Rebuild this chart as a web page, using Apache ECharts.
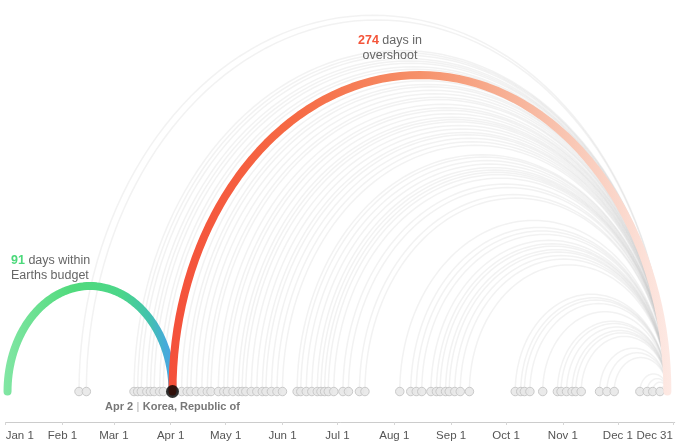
<!DOCTYPE html>
<html>
<head>
<meta charset="utf-8">
<script src="https://cdn.jsdelivr.net/npm/echarts@6/dist/echarts.min.js"></script>
<style>
html,body{margin:0;padding:0;background:#fff;}
#c{width:680px;height:447px;}
</style>
</head>
<body>
<div id="c"></div>
<script>
// ---- data (day index, Jan 1 = 0) ----
const tickDays = [0, 31, 59, 90, 120, 151, 181, 212, 243, 273, 304, 334, 364];
const tickLabels = ['Jan 1', 'Feb 1', 'Mar 1', 'Apr 1', 'May 1', 'Jun 1', 'Jul 1', 'Aug 1', 'Sep 1', 'Oct 1', 'Nov 1', 'Dec 1', 'Dec 31'];
const yearEnd = 361;            // where every arc lands (Dec 31)
const budgetStart = 1;          // Jan 1
const highlightDay = 91;        // Apr 2
const highlightCountry = 'Korea, Republic of';
const budgetDays = 91;
const overshootDays = 274;
const countryDays = [40, 44, 70, 72, 74, 77, 79, 81, 84, 86,
  96, 99, 101, 104, 107, 110, 112, 116, 119, 121, 124, 127, 129, 131, 134, 137, 140, 142, 145, 148, 151,
  159, 161, 164, 167, 170, 172, 174, 176, 179, 184, 187, 193, 196,
  215, 221, 224, 227, 232, 235, 237, 240, 242, 245, 248, 253,
  278, 281, 283, 286, 293, 301, 303, 306, 309, 311, 314,
  324, 328, 332, 346, 350, 353, 357];

const chart = echarts.init(document.getElementById('c'), null, {renderer: 'canvas'});
const FONT = '"Liberation Sans", Arial, Helvetica, sans-serif';

function arcPoints(api, a, b) {
  const cx = (a + b) / 2, r = (b - a) / 2, pts = [];
  const N = 80;
  for (let i = 0; i <= N; i++) {
    const t = Math.PI * i / N;
    pts.push(api.coord([cx - r * Math.cos(t), r * Math.sin(t)]));
  }
  return pts;
}

const greenGrad = new echarts.graphic.LinearGradient(0, 0, 1, 0, [
  {offset: 0, color: '#82e6a4'},
  {offset: 0.4, color: '#50da7c'},
  {offset: 0.68, color: '#4cd68a'},
  {offset: 0.84, color: '#42c2ad'},
  {offset: 0.94, color: '#46aadb'},
  {offset: 1, color: '#4aa3e0'}
]);
const redGrad = new echarts.graphic.LinearGradient(0, 0, 1, 0, [
  {offset: 0, color: '#f4503a'},
  {offset: 0.25, color: '#f66a44'},
  {offset: 0.5, color: '#f6916a'},
  {offset: 0.75, color: '#f8bea8'},
  {offset: 1, color: '#fde9e4'}
]);

const highlightArcs = [[budgetStart, highlightDay, 0], [highlightDay, yearEnd, 1]];

chart.setOption({
  animation: false,
  backgroundColor: '#fff',
  grid: {left: 5.7, right: 5.3, top: 0, bottom: 25, containLabel: false, outerBoundsMode: 'none'},
  xAxis: {
    type: 'value', min: 0, max: 365,
    splitLine: {show: false},
    axisLine: {onZero: false, lineStyle: {color: '#cccccc', width: 1}},
    axisTick: {show: true, length: 3, customValues: tickDays, lineStyle: {color: '#d6d6d6'}},
    axisLabel: {
      customValues: tickDays,
      alignMinLabel: 'left', alignMaxLabel: 'right',
      margin: 8,
      fontFamily: FONT, fontSize: 11.5,
      color: function (v) { return v === 364 ? '#34508a' : '#555555'; },
      formatter: function (v) { const i = tickDays.indexOf(v); return i >= 0 ? tickLabels[i] : ''; }
    }
  },
  yAxis: {type: 'value', min: -13, max: 167, show: false},
  series: [
    {
      type: 'custom', z: 1, clip: false, silent: true,
      data: countryDays.map(d => [d]),
      encode: {x: 0},
      renderItem: function (params, api) {
        const d = api.value(0);
        return {type: 'polyline', shape: {points: arcPoints(api, d, yearEnd)},
          style: {stroke: 'rgba(190,190,190,0.2)', lineWidth: 1.5, fill: null}};
      }
    },
    {
      type: 'scatter', z: 2, symbolSize: 8.5,
      data: countryDays.map(d => [d, 0]),
      itemStyle: {color: '#e8e8e8', borderColor: '#c4c4c4', borderWidth: 1, opacity: 0.9}
    },
    {
      type: 'custom', z: 3, clip: false, silent: true,
      data: highlightArcs,
      encode: {x: [0, 1]},
      renderItem: function (params, api) {
        const a = api.value(0), b = api.value(1), k = api.value(2);
        return {type: 'polyline', shape: {points: arcPoints(api, a, b)},
          style: {stroke: k === 0 ? greenGrad : redGrad, lineWidth: 8, lineCap: 'round', lineJoin: 'round', fill: null}};
      }
    },
    {
      type: 'scatter', z: 4, symbolSize: 13,
      data: [[highlightDay, 0]],
      itemStyle: {color: '#000000'},
      label: {
        show: true, position: 'bottom', distance: 3, offset: [0, 0],
        formatter: '{b|Apr 2} {s|\u007c} {b|' + highlightCountry + '}',
        rich: {
          b: {fontFamily: FONT, fontSize: 11, fontWeight: 'bold', color: '#555555'},
          s: {fontFamily: FONT, fontSize: 11, color: '#999999'}
        }
      }
    }
  ],
  graphic: [
    {type: 'text', left: 11, top: 253, z: 10,
      style: {text: '{g|' + budgetDays + '} days within\nEarths budget', fontFamily: FONT, fontSize: 12.5, lineHeight: 15, fill: '#666666',
        rich: {g: {fontFamily: FONT, fontSize: 12.5, fontWeight: 'bold', fill: '#4cd97b', color: '#4cd97b'}}}},
    {type: 'text', x: 390, y: 33, z: 10,
      style: {text: '{r|' + overshootDays + '} days in\novershoot', fontFamily: FONT, fontSize: 12.5, lineHeight: 15, fill: '#666666', align: 'center',
        rich: {r: {fontFamily: FONT, fontSize: 12.5, fontWeight: 'bold', fill: '#f4553a', color: '#f4553a'}}}}
  ]
});
</script>
</body>
</html>
